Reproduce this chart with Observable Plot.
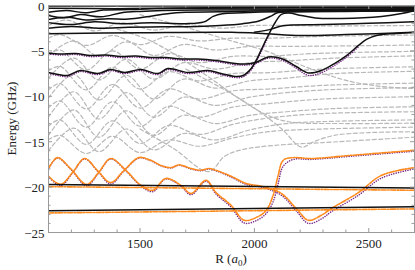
<!DOCTYPE html>
<html><head><meta charset="utf-8">
<script src="https://cdn.jsdelivr.net/npm/d3@7"></script>
<script src="https://cdn.jsdelivr.net/npm/@observablehq/plot@0.6"></script>
<style>
body{margin:0;background:#fff}
svg{display:block}
svg text{font-family:"Liberation Serif","Times New Roman","DejaVu Serif",serif !important;}
</style>
</head><body><div id="chart"></div>
<script>
// ---- tick values ----
const xMajor = [1500, 2000, 2500];
const xMinor = [1200, 1300, 1400, 1600, 1700, 1800, 1900, 2100, 2200, 2300, 2400, 2600];
const yMajor = [0, -5, -10, -15, -20, -25];
const yMinor = [-1,-2,-3,-4,-6,-7,-8,-9,-11,-12,-13,-14,-16,-17,-18,-19,-21,-22,-23,-24];

// ---- gray dashed curves [R, E] ----
const g0 = [[1100,-2.2],[1180,-1.6],[1300,-2.8],[1420,-1.9],[1560,-2.7],[1700,-2.1],[1850,-2.5],[2000,-2.2],[2300,-2.25],[2700,-2.2]];
const g1 = [[1100,-3.6],[1150,-3.2],[1265,-4.4],[1380,-3.3],[1500,-4.3],[1625,-3.4],[1760,-3.9],[1905,-3.6],[2060,-3.6],[2300,-3.4],[2700,-3.25]];
const g2 = [[1100,-5.5],[1210,-3.9],[1320,-5.6],[1440,-4.0],[1560,-5.5],[1690,-4.3],[1830,-4.9],[1980,-4.5],[2140,-4.5],[2400,-4.45],[2700,-4.35]];
const g3 = [[1100,-5.4],[1150,-4.9],[1265,-7.1],[1380,-5.0],[1500,-7.0],[1625,-5.3],[1760,-6.3],[1905,-5.6],[2060,-5.6],[2250,-5.3],[2700,-5.05]];
const g4 = [[1100,-8.0],[1210,-5.8],[1320,-8.2],[1440,-5.9],[1560,-8.1],[1690,-6.3],[1830,-7.0],[1980,-6.3],[2140,-6.1],[2350,-5.8],[2700,-5.55]];
const g5 = [[1100,-7.2],[1150,-6.7],[1265,-9.3],[1380,-6.8],[1500,-9.2],[1625,-7.3],[1760,-8.3],[1905,-7.5],[2060,-7.4],[2300,-7.0],[2700,-6.75]];
const g6 = [[1100,-10.2],[1210,-7.6],[1320,-10.4],[1440,-7.7],[1560,-10.3],[1690,-8.1],[1830,-9.1],[1980,-8.3],[2140,-8.0],[2350,-7.5],[2700,-7.25]];
const g7 = [[1100,-9.3],[1150,-8.6],[1265,-11.4],[1380,-8.7],[1500,-11.3],[1625,-9.2],[1760,-10.3],[1905,-9.4],[2060,-9.2],[2300,-8.8],[2700,-8.55]];
const g8 = [[1100,-12.3],[1210,-9.5],[1320,-12.5],[1440,-9.6],[1560,-12.3],[1690,-10.1],[1830,-11.0],[1980,-10.1],[2140,-9.6],[2350,-9.25],[2700,-9.05]];
const g9 = [[1100,-11.3],[1150,-10.5],[1265,-13.4],[1380,-10.6],[1500,-13.3],[1625,-11.1],[1760,-12.3],[1905,-11.2],[2060,-10.8],[2300,-10.3],[2700,-10.05]];
const g10 = [[1100,-14.3],[1210,-11.5],[1320,-14.5],[1440,-11.6],[1560,-14.3],[1690,-12.1],[1830,-13.0],[1980,-12.1],[2140,-11.7],[2350,-11.35],[2700,-11.15]];
const g11 = [[1100,-13.3],[1150,-12.6],[1265,-15.3],[1380,-12.7],[1500,-15.2],[1625,-13.2],[1760,-14.2],[1905,-13.1],[2060,-12.4],[2300,-11.9],[2700,-11.7]];
const g12 = [[1100,-16.0],[1210,-13.5],[1320,-16.1],[1440,-13.6],[1560,-15.9],[1690,-14.1],[1830,-14.8],[1980,-13.7],[2140,-13.0],[2350,-12.75],[2700,-12.6]];
const g13 = [[1100,-14.8],[1150,-14.3],[1265,-16.3],[1380,-14.4],[1500,-16.2],[1625,-14.8],[1760,-15.5],[1905,-14.6],[2060,-13.9],[2300,-13.6],[2700,-13.4]];
const gd1 = [[1500,-1.0],[1700,-2.4],[1900,-3.9],[2050,-5.0],[2150,-6.0],[2270,-7.2],[2410,-8.3],[2550,-8.9],[2700,-9.15]];
const gd2 = [[1700,-7.0],[1850,-9.0],[2000,-11.3],[2120,-13.6],[2205,-15.6],[2260,-15.0],[2350,-14.3],[2500,-14.0],[2700,-13.9]];
const gd3 = [[1500,-13.6],[1650,-15.8],[1800,-18.3],[1870,-16.6],[1942,-15.9],[2090,-15.4],[2300,-15.1],[2500,-14.8],[2700,-14.5]];
const gd5 = [[1400,-2.6],[1547,-3.9],[1750,-7.0],[1942,-10.4],[2050,-12.0],[2150,-12.8],[2400,-13.0],[2700,-12.95]];
const grayCurves = [g0,g1,g2,g3,g4,g5,g6,g7,g8,g9,g10,g11,g12,g13,gd1,gd2,gd3,gd5];

// ---- black solid curves [R, E] ----
const k1 = [[1100,-0.05],[2700,-0.03]];
const k2 = [[1100,-0.3],[1400,-0.35],[1800,-0.25],[2700,-0.2]];
const k3 = [[1100,-0.75],[1180,-0.55],[1260,-0.8],[1340,-0.5],[1450,-0.45],[1550,-0.35],[1700,-0.3],[2700,-0.3]];
const k4 = [[1100,-1.1],[1170,-1.35],[1240,-1.0],[1330,-1.25],[1420,-0.8],[1500,-0.65],[1600,-0.55],[1750,-0.5],[2700,-0.45]];
const k5 = [[1100,-1.55],[1180,-1.3],[1270,-1.6],[1360,-1.45],[1450,-1.5],[1540,-1.2],[1620,-0.9],[1700,-0.75],[1850,-0.7],[2000,-0.6],[2700,-0.55]];
const k6 = [[1100,-1.9],[1200,-2.1],[1300,-1.8],[1420,-2.0],[1550,-1.9],[1700,-2.0],[1780,-1.8],[1820,-1.2],[1860,-0.9],[1950,-0.8],[2100,-0.7],[2700,-0.6]];
const k7 = [[1100,-2.5],[1200,-2.3],[1320,-2.5],[1450,-2.4],[1600,-2.35],[1750,-2.3],[1850,-2.2],[1950,-2.0],[2020,-1.7],[2070,-1.2],[2100,-0.8],[2160,-0.7],[2400,-0.65],[2700,-0.5]];
const l3 = [[1100,-3.1],[1500,-3.0],[1900,-2.95],[2050,-3.1],[2200,-3.3],[2400,-3.2],[2700,-2.95]];
const l4 = [[2000,-2.95],[2074,-2.6],[2118,-2.25],[2300,-2.1],[2500,-1.95],[2700,-1.8]];
const curveA = [[1100,-5.23],[1153,-5.34],[1218,-5.28],[1284,-5.51],[1350,-5.45],[1416,-5.62],[1482,-5.56],[1547,-5.73],[1613,-5.73],[1679,-5.89],[1754,-5.89],[1832,-6.06],[1916,-6.39],[1964,-6.44],[2004,-6.28],[2061,-5.67],[2118,-5.84],[2183,-6.72],[2236,-7.43],[2293,-7.16],[2350,-6.39],[2403,-5.51],[2455,-4.4],[2490,-3.74],[2534,-3.3],[2622,-3.08],[2700,-2.97]];
const curveB = [[1100,-7.38],[1144,-7.6],[1183,-7.71],[1240,-7.16],[1315,-7.49],[1372,-7.05],[1433,-7.38],[1503,-7.05],[1578,-7.49],[1622,-6.94],[1710,-7.38],[1797,-7.16],[1854,-7.49],[1916,-7.82],[1951,-7.71],[1986,-6.94],[2012,-5.84],[2039,-4.4],[2065,-3.08],[2091,-1.87],[2118,-0.99],[2148,-0.83],[2205,-1.1],[2267,-1.38],[2381,-1.43],[2556,-1.21],[2644,-0.88],[2700,-0.55]];
const blackUpper = [[1100,-19.7],[2700,-20.1]];
const blackLower = [[1100,-22.6],[2700,-22.15]];
const blackCurves = [k1,k2,k3,k4,k5,k6,k7,l3,l4,curveA,curveB,blackUpper,blackLower];

// ---- orange dash-dot curves [R, E] ----
const orangeU = [[1100,-18.8],[1153,-19.7],[1205,-18.4],[1258,-16.85],[1315,-18.2],[1372,-19.5],[1429,-18.2],[1495,-16.75],[1547,-17.05],[1591,-17.6],[1635,-17.85],[1670,-17.55],[1723,-17.95],[1767,-18.15],[1802,-17.95],[1832,-18.15],[1898,-18.8],[1964,-19.6],[2039,-19.95],[2118,-20.7],[2183,-22.35],[2236,-23.65],[2293,-23.1],[2337,-22.35],[2455,-20.6],[2556,-18.7],[2700,-17.85]];
const orangeL = [[1100,-17.95],[1139,-16.75],[1196,-17.95],[1267,-19.7],[1319,-18.4],[1372,-16.85],[1438,-18.15],[1504,-19.8],[1556,-20.35],[1613,-19.05],[1679,-19.8],[1723,-20.7],[1789,-19.25],[1832,-20.6],[1898,-22.0],[1955,-23.65],[2008,-23.35],[2052,-22.55],[2082,-20.9],[2104,-18.7],[2126,-17.05],[2170,-16.75],[2249,-16.85],[2425,-16.5],[2700,-15.95]];
const orangeB = [[1100,-19.95],[1900,-20.15],[2700,-20.35]];
const orangeA = [[1100,-22.85],[2700,-22.4]];
const orangeCurves = [orangeU, orangeL, orangeB, orangeA];

// ---- purple dotted curves [R, E] ----
const purpleU = [[1100,-18.85],[1153,-19.85],[1205,-18.45],[1258,-16.9],[1315,-18.25],[1372,-19.65],[1429,-18.25],[1495,-16.8],[1547,-17.1],[1591,-17.65],[1635,-17.9],[1670,-17.6],[1723,-18.0],[1767,-18.2],[1802,-18.0],[1832,-18.2],[1898,-18.9],[1964,-19.7],[2039,-20.05],[2118,-20.9],[2183,-22.6],[2236,-24.0],[2293,-23.5],[2337,-22.7],[2455,-20.9],[2556,-19.0],[2700,-18.0]];
const purpleL = [[1100,-18.0],[1139,-16.8],[1196,-18.0],[1267,-19.85],[1319,-18.45],[1372,-16.9],[1438,-18.2],[1504,-19.9],[1556,-20.5],[1613,-19.1],[1679,-19.9],[1723,-20.85],[1789,-19.35],[1832,-20.75],[1898,-22.2],[1955,-23.95],[2008,-23.7],[2052,-22.9],[2082,-21.6],[2104,-19.6],[2126,-17.7],[2170,-16.95],[2249,-16.95],[2425,-16.6],[2700,-16.05]];
const purpleA = [[1100,-5.35],[1153,-5.46],[1218,-5.4],[1284,-5.63],[1350,-5.57],[1416,-5.74],[1482,-5.68],[1547,-5.85],[1613,-5.85],[1679,-6.01],[1754,-6.01],[1832,-6.18],[1916,-6.51],[1964,-6.56],[2004,-6.4],[2061,-5.8],[2118,-6.0],[2183,-6.9],[2236,-7.7],[2293,-7.4],[2350,-6.6],[2403,-5.7],[2455,-4.55]];
const purpleB = [[1100,-7.5],[1144,-7.72],[1183,-7.83],[1240,-7.28],[1315,-7.61],[1372,-7.17],[1433,-7.5],[1503,-7.17],[1578,-7.61],[1622,-7.06],[1710,-7.5],[1797,-7.28],[1854,-7.61],[1916,-7.94],[1951,-7.85],[1986,-7.1],[2012,-6.0],[2039,-4.6],[2065,-3.2]];
const purpleCurves = [purpleU, purpleL, purpleA, purpleB];

const line = (data, opts) => Plot.line(data, {x: d => d[0], y: d => d[1], curve: "catmull-rom", clip: true, ...opts});
const innerW = 415 - 48 - 1, innerH = 270 - 5 - 38;
const tickColor = "#9a9a9a";
const serif = '"Liberation Serif","Times New Roman","DejaVu Serif",serif';
const fmtY = d => d === 0 ? "0" : "\u2212" + Math.abs(d);
const fmtX = d => String(d);

const plot = Plot.plot({
  width: 415, height: 270,
  marginLeft: 48, marginRight: 1, marginTop: 5, marginBottom: 38,
  x: {domain: [1100, 2700]},
  y: {domain: [-25, 0]},
  style: {fontFamily: serif, fontSize: "13px", background: "#fff", color: "#222"},
  marks: [
    ...grayCurves.map(c => line(c, {stroke: "#b8b8b8", strokeWidth: 1.2, strokeDasharray: "4,2.5"})),
    ...purpleCurves.map(c => line(c, {stroke: "#7a2a88", strokeWidth: 1.5, strokeDasharray: "0.1,2.3", strokeLinecap: "round"})),
    ...orangeCurves.map(c => line(c, {stroke: "#ff8a1c", strokeWidth: 1.6, strokeDasharray: "5,1.5,1.5,1.5"})),
    ...blackCurves.map(c => line(c, {stroke: "#111", strokeWidth: 1.5})),
    Plot.frame({stroke: tickColor, strokeWidth: 1}),
    Plot.tickX(xMajor, {x: d => d, insetTop: innerH - 4, stroke: tickColor}),
    Plot.tickX(xMinor, {x: d => d, insetTop: innerH - 2.5, stroke: tickColor}),
    Plot.tickX(xMajor, {x: d => d, insetBottom: innerH - 4, stroke: tickColor}),
    Plot.tickX(xMinor, {x: d => d, insetBottom: innerH - 2.5, stroke: tickColor}),
    Plot.tickY(yMajor, {y: d => d, insetRight: innerW - 4, stroke: tickColor}),
    Plot.tickY(yMinor, {y: d => d, insetRight: innerW - 2.5, stroke: tickColor}),
    Plot.tickY(yMajor, {y: d => d, insetLeft: innerW - 4, stroke: tickColor}),
    Plot.tickY(yMinor, {y: d => d, insetLeft: innerW - 2.5, stroke: tickColor}),
    Plot.axisX(xMajor, {tickSize: 0, tickPadding: 6, label: null, tickFormat: fmtX}),
    Plot.axisY(yMajor, {tickSize: 0, tickPadding: 4, label: null, tickFormat: fmtY, dy: 1})
  ]
});
document.getElementById("chart").appendChild(plot);

const svg = d3.select(plot);
const xr = plot.scale("x").range, yr = plot.scale("y").range;
const xl = svg.append("text")
  .attr("x", (xr[0] + xr[1]) / 2).attr("y", 263)
  .attr("text-anchor", "middle").attr("font-size", 13).attr("fill", "#222");
xl.append("tspan").text("R (");
xl.append("tspan").attr("font-style", "italic").text("a");
xl.append("tspan").attr("font-size", 9).attr("dy", 3).text("0");
xl.append("tspan").attr("dy", -3).text(")");
svg.append("text")
  .attr("transform", `translate(11,${(yr[0] + yr[1]) / 2}) rotate(-90)`)
  .attr("text-anchor", "middle").attr("dy", "0.35em").attr("font-size", 13).attr("fill", "#222")
  .text("Energy (GHz)");
</script></body></html>
